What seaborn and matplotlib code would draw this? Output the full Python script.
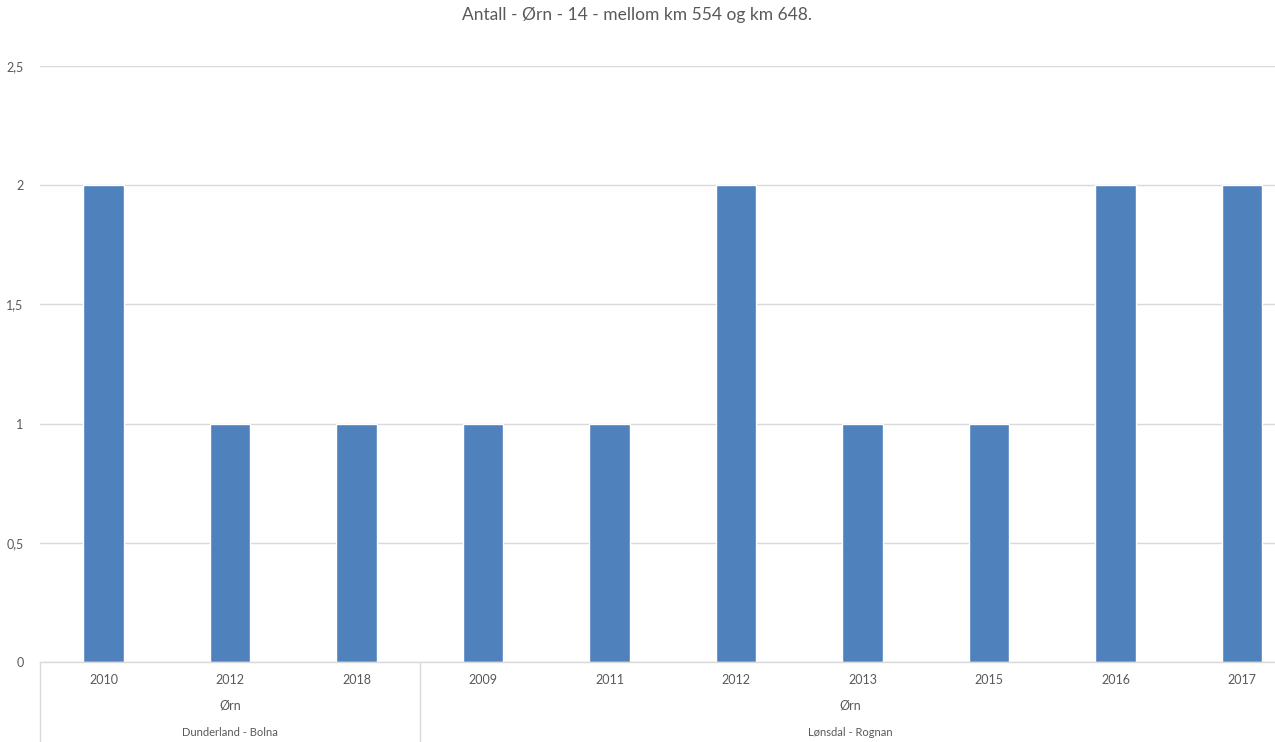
import matplotlib
matplotlib.use("Agg")
import matplotlib.pyplot as plt
import matplotlib.transforms as mtransforms
import seaborn as sns
import pandas as pd

# data
groups = ["Dunderland - Bolna"] * 3 + ["Lønsdal - Rognan"] * 7
years = ["2010", "2012", "2018", "2009", "2011", "2012", "2013", "2015", "2016", "2017"]
counts = [2, 1, 1, 1, 1, 2, 1, 1, 2, 2]
species = "Ørn"
yticks = [0, 0.5, 1, 1.5, 2, 2.5]
ytick_labels = ["0", "0,5", "1", "1,5", "2", "2,5"]
title = "Antall - Ørn - 14 - mellom km 554 og km 648."

df = pd.DataFrame({"group": groups, "year": years, "count": counts})
df["slot"] = df["group"] + "|" + df["year"]

sns.set_theme(style="white")
plt.rcParams["font.family"] = ["Lato", "DejaVu Sans"]
txt = "#595959"
grid_c = "#D9D9D9"

fig = plt.figure(figsize=(12.75, 7.42), dpi=100)
ax = fig.add_axes([40.25 / 1275, 80 / 742, 1265 / 1275, 596 / 742])

sns.barplot(data=df, x="slot", y="count", order=df["slot"], color="#4F81BD",
            saturation=1, width=0.32, ax=ax, errorbar=None)

ax.set_ylim(0, 2.5)
ax.set_xlim(-0.5, len(df) - 0.5)
ax.set_yticks(yticks)
ax.set_yticklabels(ytick_labels, color=txt, fontsize=9)
ax.yaxis.grid(True, color=grid_c, linewidth=1)
ax.set_axisbelow(True)
for s in ["top", "right", "left"]:
    ax.spines[s].set_visible(False)
ax.spines["bottom"].set_color(grid_c)
ax.spines["bottom"].set_linewidth(1)
ax.tick_params(axis="y", length=0, pad=12)
ax.tick_params(axis="x", length=0, pad=9)
ax.set_xticks(range(len(df)))
ax.set_xticklabels(df["year"], color=txt, fontsize=9)
ax.set_xlabel("")
ax.set_ylabel("")

# multi-level category axis
trans = mtransforms.blended_transform_factory(ax.transData, ax.transAxes)
bottom = -80 / 596
starts = df.groupby("group", sort=False).apply(lambda g: g.index.min()).tolist()
ends = df.groupby("group", sort=False).apply(lambda g: g.index.max()).tolist()
for s in starts:
    ax.plot([s - 0.5, s - 0.5], [0, bottom], color=grid_c, lw=1,
            transform=trans, clip_on=False)
for (gname, s, e) in zip(df["group"].unique(), starts, ends):
    mid = (s + e) / 2 if e - s < 5 else (s + e) / 2 - 0.1
    ax.text(mid, -44 / 596, species, transform=trans, ha="center", va="center",
            color=txt, fontsize=9)
    ax.text(mid, -70 / 596, gname, transform=trans, ha="center", va="center",
            color=txt, fontsize=8)

fig.text(0.5, 1 - 15 / 742, title, ha="center", va="center", color=txt, fontsize=12.5)

fig.savefig("out.png", dpi=100)
